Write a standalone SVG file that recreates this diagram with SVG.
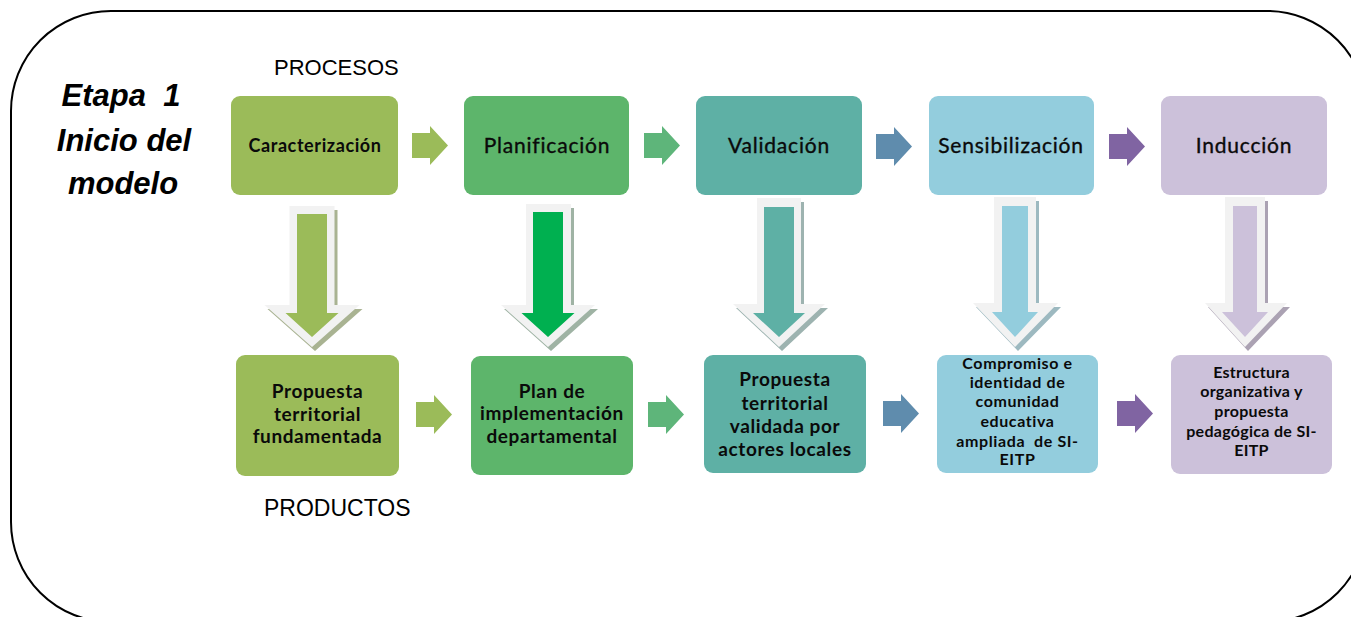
<svg xmlns="http://www.w3.org/2000/svg" width="1351" height="617" viewBox="0 0 1351 617">
<style>
.frame{fill:none;stroke:#000;stroke-width:2}
.lbl{font-family:Lato,"Liberation Sans",sans-serif;fill:#0a0a0a;text-anchor:middle}
.top{font-size:21px;letter-spacing:0.8px;stroke:#0a0a0a;stroke-width:0.35px}
.prod{font-size:19px;font-weight:bold;letter-spacing:0.6px}
.small{font-size:16px;font-weight:bold;letter-spacing:0.3px}
.hdr{font-family:"Liberation Sans",Arial,sans-serif;font-size:22px;fill:#000}
.title{font-family:"Liberation Sans",Arial,sans-serif;font-size:31px;font-weight:bold;font-style:italic;fill:#000;text-anchor:middle;white-space:pre}
.halo{fill:#F2F2F2}
</style>
<defs>
<path id="harr" d="M0,7 H18 V0 L36,19.5 L18,39 V32 H0 Z"/>
</defs>
<rect class="frame" x="11" y="11" width="1356" height="611" rx="100" ry="100"/>

<text class="hdr" x="274" y="75">PROCESOS</text>
<text class="hdr" x="264" y="516" style="font-size:23px">PRODUCTOS</text>

<g id="title">
<text class="title" x="121" y="106" xml:space="preserve">Etapa  1</text>
<text class="title" x="124" y="151">Inicio del</text>
<text class="title" x="123" y="194">modelo</text>
</g>

<g id="connectors">
<use href="#harr" x="412" y="126" fill="#9BBB59"/>
<use href="#harr" x="644" y="126" fill="#5EB57A"/>
<use href="#harr" x="876" y="127" fill="#5F8CAD"/>
<use href="#harr" x="1109" y="127" fill="#8064A2"/>
<use href="#harr" x="416" y="395" fill="#9BBB59"/>
<use href="#harr" x="648" y="395" fill="#5EB57A"/>
<use href="#harr" x="883" y="394" fill="#5F8CAD"/>
<use href="#harr" x="1117" y="394" fill="#8064A2"/>

<g id="down1">
<path fill="#A9B392" d="M292.5,210 H337.5 V309 H362.5 L315,351 L267.5,309 H292.5 Z"/>
<path class="halo" d="M289.5,206 H334.5 V305 H359.5 L312,347 L264.5,305 H289.5 Z"/>
<path fill="#9BBB59" d="M297,214 H327 V313 H338.5 L312,337 L285.5,313 H297 Z"/>
</g>
<g id="down2">
<path fill="#9FB3A4" d="M529,208 H574 V309 H598 L551,351 L504,309 H529 Z"/>
<path class="halo" d="M526,204 H571 V305 H595 L548,347 L501,305 H526 Z"/>
<path fill="#00B050" d="M533,212 H563 V313 H574.5 L548,337 L521.5,313 H533 Z"/>
</g>
<g id="down3">
<path fill="#9DB3B0" d="M760,202 H804 V308 H828 L782,351 L736,308 H760 Z"/>
<path class="halo" d="M757,198 H801 V304 H825 L779,347 L733,304 H757 Z"/>
<path fill="#5EB0A5" d="M764,207 H794 V313 H805 L779,337 L753,313 H764 Z"/>
</g>
<g id="down4">
<path fill="#9DB9C0" d="M997,201 H1039 V307 H1061 L1018,351 L976,307 H997 Z"/>
<path class="halo" d="M994,197 H1036 V303 H1058 L1015,347 L973,303 H994 Z"/>
<path fill="#93CDDD" d="M1002,206 H1028 V312 H1038 L1015,337 L992,312 H1002 Z"/>
</g>
<g id="down5">
<path fill="#ABA2B3" d="M1228,201 H1268 V307 H1290 L1248,351 L1208,307 H1228 Z"/>
<path class="halo" d="M1225,197 H1265 V303 H1287 L1245,347 L1205,303 H1225 Z"/>
<path fill="#CCC1DA" d="M1233,206 H1257 V312 H1268 L1245,337 L1222,312 H1233 Z"/>
</g>
</g>

<g id="n-caracterizacion">
<rect x="231" y="96" width="167" height="99" rx="9" fill="#9BBB59"/>
<text class="lbl" x="315" y="152" style="font-size:18px;font-weight:bold;letter-spacing:0.6px">Caracterización</text>
</g>
<g id="n-planificacion">
<rect x="464" y="96" width="165" height="99" rx="9" fill="#5DB56B"/>
<text class="lbl top" x="547" y="153">Planificación</text>
</g>
<g id="n-validacion">
<rect x="696" y="96" width="166" height="99" rx="9" fill="#5EB0A5"/>
<text class="lbl top" x="779" y="153">Validación</text>
</g>
<g id="n-sensibilizacion">
<rect x="929" y="96" width="165" height="99" rx="9" fill="#93CDDD"/>
<text class="lbl top" x="1011" y="153">Sensibilización</text>
</g>
<g id="n-induccion">
<rect x="1161" y="96" width="166" height="99" rx="9" fill="#CCC1DA"/>
<text class="lbl top" x="1244" y="153">Inducción</text>
</g>

<g id="p-propuesta">
<rect x="236" y="355" width="163" height="121" rx="9" fill="#9BBB59"/>
<text class="lbl prod" x="317.5" y="398">Propuesta</text>
<text class="lbl prod" x="317.5" y="421">territorial</text>
<text class="lbl prod" x="317.5" y="443">fundamentada</text>
</g>
<g id="p-plan">
<rect x="471" y="356" width="162" height="119" rx="9" fill="#5DB56B"/>
<text class="lbl prod" x="552" y="398">Plan de</text>
<text class="lbl prod" x="552" y="420">implementación</text>
<text class="lbl prod" x="552" y="443">departamental</text>
</g>
<g id="p-validada">
<rect x="704" y="355" width="162" height="118" rx="9" fill="#5EB0A5"/>
<text class="lbl prod" x="785" y="386">Propuesta</text>
<text class="lbl prod" x="785" y="410">territorial</text>
<text class="lbl prod" x="785" y="433">validada por</text>
<text class="lbl prod" x="785" y="456">actores locales</text>
</g>
<g id="p-compromiso">
<rect x="937" y="355" width="161" height="118" rx="9" fill="#93CDDD"/>
<text class="lbl small" x="1017.5" y="369" style="letter-spacing:0.6px">Compromiso e</text>
<text class="lbl small" x="1017.5" y="388" style="letter-spacing:0.6px">identidad de</text>
<text class="lbl small" x="1017.5" y="407" style="letter-spacing:0.6px">comunidad</text>
<text class="lbl small" x="1017.5" y="427" style="letter-spacing:0.6px">educativa</text>
<text class="lbl small" x="1017.5" y="447" style="letter-spacing:0.6px" xml:space="preserve">ampliada  de SI-</text>
<text class="lbl small" x="1017.5" y="465" style="letter-spacing:0.6px">EITP</text>
</g>
<g id="p-estructura">
<rect x="1171" y="355" width="161" height="119" rx="9" fill="#CCC1DA"/>
<text class="lbl small" x="1251.5" y="378">Estructura</text>
<text class="lbl small" x="1251.5" y="397">organizativa y</text>
<text class="lbl small" x="1251.5" y="417">propuesta</text>
<text class="lbl small" x="1251.5" y="437">pedagógica de SI-</text>
<text class="lbl small" x="1251.5" y="456">EITP</text>
</g>
</svg>
